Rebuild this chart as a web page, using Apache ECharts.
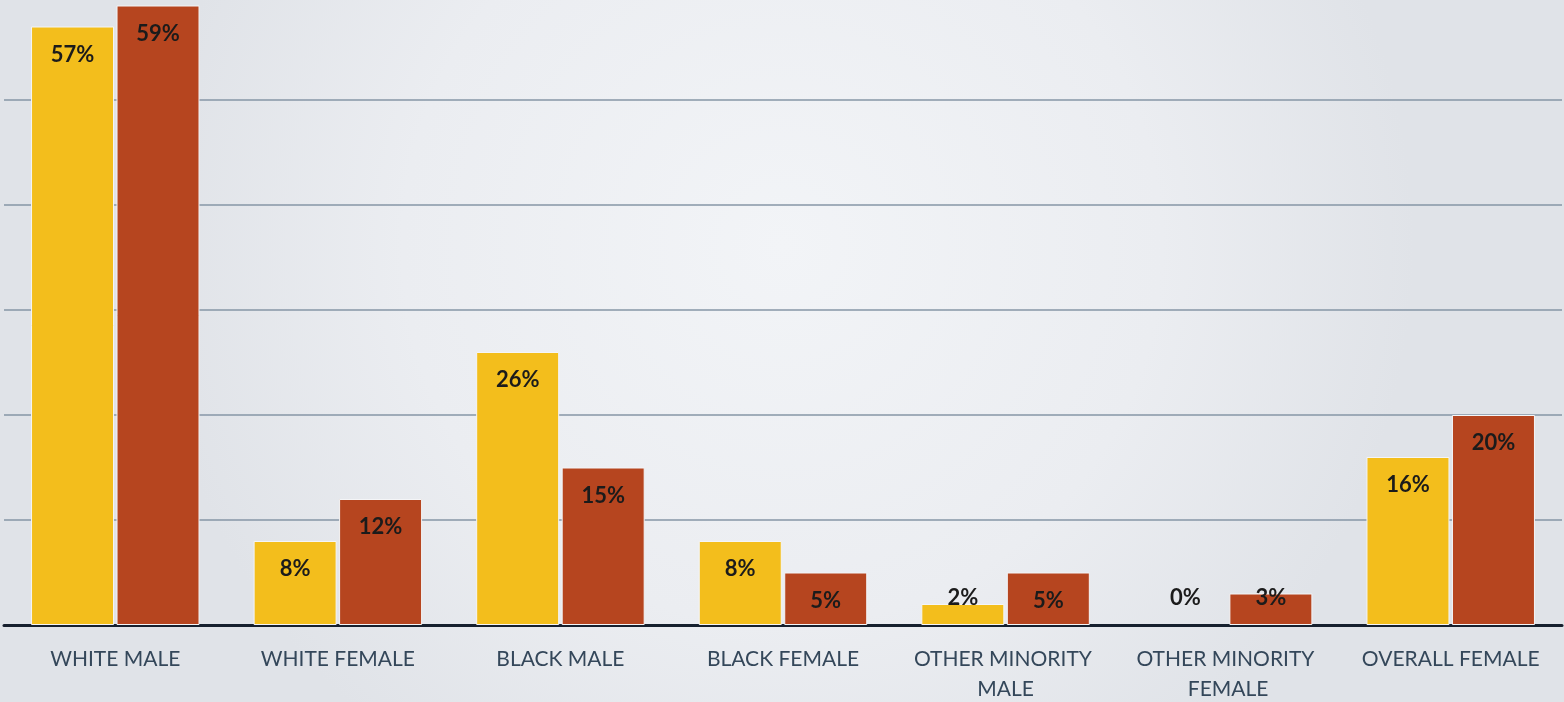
<!DOCTYPE html>
<html>
<head>
<meta charset="utf-8">
<style>
  html, body { margin: 0; padding: 0; }
  #chart { width: 1564px; height: 702px; }
</style>
<script src="https://cdn.jsdelivr.net/npm/echarts@6/dist/echarts.min.js"></script>
</head>
<body>
<div id="chart"></div>
<script>
// Category groups along the x axis
const categories = [
  'WHITE MALE',
  'WHITE FEMALE',
  'BLACK MALE',
  'BLACK FEMALE',
  'OTHER MINORITY MALE',
  'OTHER MINORITY FEMALE',
  'OVERALL FEMALE'
];

// Percentages for the two compared groups
const seriesA = [57, 8, 26, 8, 2, 0, 16];
const seriesB = [59, 12, 15, 5, 5, 3, 20];

// Value axis ticks (percent)
const yMin = 0;
const yMax = 60;
const yStep = 10;

const chart = echarts.init(document.getElementById('chart'));

const labelFont = {
  fontFamily: 'Lato, "Noto Sans", sans-serif',
  fontWeight: 'bold',
  fontSize: 22,
  color: '#1b1b1b'
};

// Short bars carry their label just above the baseline instead of inside the top
function toData(values) {
  return values.map(v => {
    if (v <= 3) {
      const item = { value: v, label: { position: 'insideBottom', distance: 16 } };
      if (v === 0) item.itemStyle = { borderWidth: 0 };
      return item;
    }
    return v;
  });
}

function barSeries(name, values, color) {
  return {
    name: name,
    type: 'bar',
    data: toData(values),
    barWidth: 83,
    barGap: '3%',
    itemStyle: { color: color, borderColor: '#f4f5f7', borderWidth: 1 },
    label: Object.assign({
      show: true,
      position: 'insideTop',
      distance: 17,
      formatter: p => p.value + '%'
    }, labelFont)
  };
}

// Grid lines for each tick; the one at the top of the scale stays hidden
const gridLineColors = [];
for (let v = yMin; v <= yMax; v += yStep) {
  gridLineColors.push(v === yMax ? 'rgba(0,0,0,0)' : '#8696a6');
}

chart.setOption({
  backgroundColor: {
    type: 'radial', x: 0.5, y: 0.35, r: 0.9,
    colorStops: [
      { offset: 0, color: '#f2f4f7' },
      { offset: 0.6, color: '#ebedf1' },
      { offset: 1, color: '#e0e3e8' }
    ]
  },
  animation: false,
  grid: { left: 4, right: 2, top: -5, bottom: 77, outerBoundsMode: 'none', containLabel: false },
  xAxis: {
    type: 'category',
    data: categories,
    axisLine: { show: true, lineStyle: { color: '#16202e', width: 3 } },
    axisTick: { show: false },
    axisLabel: {
      interval: 0,
      margin: 19,
      fontFamily: 'Lato, "Noto Sans", sans-serif',
      fontSize: 21,
      lineHeight: 30,
      color: '#34475a',
      width: 190,
      overflow: 'break'
    }
  },
  yAxis: {
    type: 'value',
    min: yMin,
    max: yMax,
    interval: yStep,
    axisLine: { show: false },
    axisTick: { show: false },
    axisLabel: { show: false },
    splitLine: { lineStyle: { color: gridLineColors, width: 1.5 } }
  },
  series: [
    barSeries('A', seriesA, '#F3BE1C'),
    barSeries('B', seriesB, '#B6451F')
  ]
});
</script>
</body>
</html>
